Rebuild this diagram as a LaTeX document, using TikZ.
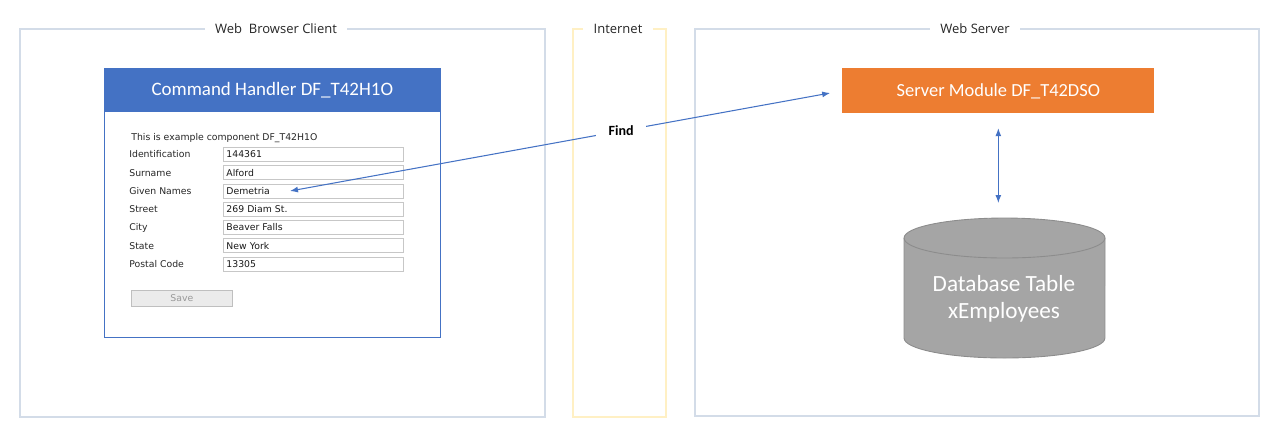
\documentclass[tikz,border=0pt]{standalone}
\usepackage{fontspec}
\setmainfont{Carlito}
\newfontfamily\formfont{DejaVu Sans}
\newfontfamily\uifont{Open Sans}
\usetikzlibrary{arrows.meta,positioning,calc}
\definecolor{framegray}{HTML}{D3DCE8}
\definecolor{netyellow}{HTML}{FFF0C4}
\definecolor{handlerblue}{HTML}{4472C4}
\definecolor{moduleorange}{HTML}{ED7D31}
\definecolor{dbgray}{HTML}{A5A5A5}
\definecolor{dbedge}{HTML}{8C8C8C}
\tikzset{
    frame/.style={draw=framegray, line width=0.6pt},
    netframe/.style={draw=netyellow, line width=0.6pt},
    group/.style={fill=white, inner xsep=6pt, inner ysep=1pt, font=\uifont\fontsize{7.4}{8.5}\selectfont, text=black!85},
    handler/.style={draw=handlerblue, line width=0.6pt, minimum width=6.72cm, minimum height=5.38cm, anchor=north west},
    header/.style={fill=handlerblue, text=white, minimum width=6.72cm, minimum height=0.88cm, anchor=north west, font=\fontsize{10.8}{13}\selectfont},
    formtext/.style={anchor=west, inner sep=0pt, font=\formfont\fontsize{5.3}{6.3}\selectfont, text=black!85},
    field/.style={draw=black!22, line width=0.5pt, anchor=west, text width=3.48cm, inner xsep=0.06cm, inner ysep=0pt, minimum height=0.28cm, font=\formfont\fontsize{5.3}{6.3}\selectfont, text=black!90},
    savebtn/.style={draw=black!25, fill=black!8, text=black!40, minimum width=2.02cm, minimum height=0.32cm, inner sep=0pt, anchor=north west, font=\formfont\fontsize{5.3}{6.3}\selectfont},
    module/.style={fill=moduleorange, text=white, minimum width=6.24cm, minimum height=0.9cm, anchor=north west, font=\fontsize{10.5}{12}\selectfont},
    dbshape/.style={fill=dbgray, draw=dbedge, line width=0.5pt},
    dbtext/.style={text=white, align=center, font=\fontsize{13.2}{15.5}\selectfont},
    call/.style={{Latex[length=1.6mm,width=1.2mm]}-{Latex[length=1.6mm,width=1.2mm]}, handlerblue, line width=0.6pt},
    findlbl/.style={fill=white, inner xsep=7pt, text=black, font=\bfseries\fontsize{8}{10}\selectfont}
}

\begin{document}
\begin{tikzpicture}[x=0.02cm, y=-0.02cm]
    \useasboundingbox (0,0) rectangle (1280,434);

    % group frames
    \draw[frame] (20,29) rectangle (545,417);
    \node[group] (client) at (276,29) {Web\ \ Browser Client};
    \draw[netframe] (573,29) rectangle (666,417);
    \node[group] (internet) at (618,29) {Internet};
    \draw[frame] (695,29) rectangle (1259,416);
    \node[group] (webserver) at (975,29) {Web Server};

    % command handler form
    \node[handler] (handler) at (104,68) {};
    \node[header] (header) at (104,68) {Command Handler DF\_T42H1O};
    \node[formtext] (intro) at (131,138.5) {This is example component DF\_T42H1O};
    \foreach \lbl/\val [count=\i] in {Identification/144361, Surname/Alford, Given Names/Demetria, Street/269 Diam St., City/Beaver Falls, State/New York, Postal Code/13305} {
        \node[formtext] (lbl\i) at (129,136.25+18.25*\i) {\lbl};
        \node[field] (fld\i) at (223,136.25+18.25*\i) {\val};
    }
    \node[savebtn] (save) at (131,290) {Save};

    % web server
    \node[module] (srv) at (842,68) {Server Module DF\_T42DSO};
    \draw[dbshape] (904,238) -- (904,338) arc[start angle=180, end angle=360, x radius=2.01cm, y radius=0.4cm]
        -- (1105,238) arc[start angle=0, end angle=180, x radius=2.01cm, y radius=0.4cm] -- cycle;
    \draw[draw=dbedge, line width=0.5pt] (904,238) arc[start angle=180, end angle=360, x radius=2.01cm, y radius=0.4cm];
    \node[dbtext] (db) at (1004,299) {Database Table\\xEmployees};
    \coordinate (dbtop) at (999,217);

    % connectors
    \coordinate (given) at ([xshift=1.34cm]fld3.west);
    \draw[call, shorten >=0.24cm] (given) -- node[findlbl, pos=0.6] (find) {Find} (srv.west);
    \draw[call, shorten <=0.29cm, shorten >=0.28cm] (srv.south) -- (srv.south |- dbtop);
\end{tikzpicture}
\end{document}
